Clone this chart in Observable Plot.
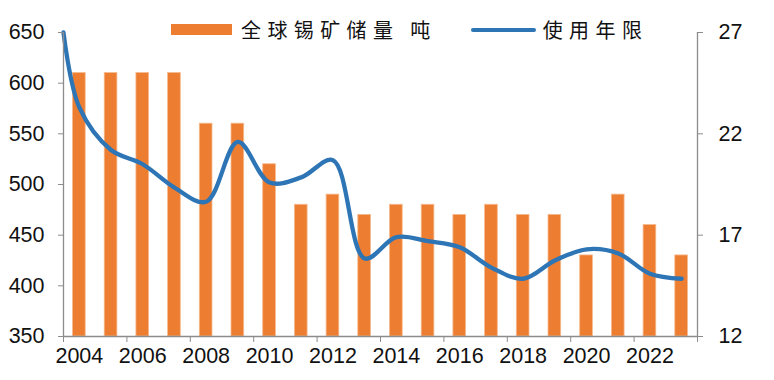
<!DOCTYPE html>
<html>
<head>
<meta charset="utf-8">
<script src="https://cdn.jsdelivr.net/npm/d3@7"></script>
<script src="https://cdn.jsdelivr.net/npm/@observablehq/plot@0.6"></script>
<style>
  html, body { margin: 0; padding: 0; background: #fff; }
  #wrap { position: relative; width: 774px; height: 380px; }
  #legend { position: absolute; top: 15px; left: 171px; display: flex; align-items: center;
    font-family: "Noto Sans CJK SC", sans-serif; font-size: 20px; letter-spacing: 6.4px; color: #111; }
  .sw-bar { width: 61px; height: 11px; background: #ED7D31; margin-right: 9px; }
  .sw-line { width: 65px; height: 4px; border-radius: 2px; background: #2E75B6; margin-left: 34px; margin-right: 7px; }
  #chart svg text { font-size: 21.5px; }
</style>
</head>
<body>
<div id="wrap">
  <div id="chart"></div>
  <div id="legend">
    <div class="sw-bar"></div><span>全球锡矿储量 吨</span>
    <div class="sw-line"></div><span>使用年限</span>
  </div>
</div>
<script>
// Data
const years = [2004,2005,2006,2007,2008,2009,2010,2011,2012,2013,2014,2015,2016,2017,2018,2019,2020,2021,2022,2023];
const reserves = [610,610,610,610,560,560,520,480,490,470,480,480,470,480,470,470,430,490,460,430];
const lifeYears = [2003.5,2004,2005,2006,2007,2008,2009,2010,2011,2012,2013,2014,2015,2016,2017,2018,2019,2020,2021,2022,2023];
const lifeValues = [27,23.3,21.2,20.5,19.35,18.65,21.6,19.6,19.85,20.7,15.85,16.9,16.7,16.4,15.4,14.85,15.75,16.3,16.1,15.1,14.85];
const leftTicks = [350,400,450,500,550,600,650];
const rightTicks = [12,17,22,27];
const xLabelYears = [2004,2006,2008,2010,2012,2014,2016,2018,2020,2022];
const xTickBounds = [2003.5,2005.5,2007.5,2009.5,2011.5,2013.5,2015.5,2017.5,2019.5,2021.5,2023.5];

// secondary-axis mapping (12..27 -> 350..650)
const toLeft = v => 350 + (v - 12) * 20;
const fromLeft = v => Math.round((v - 350) / 20 + 12);

const barData = years.map((y, i) => ({year: y, reserve: reserves[i]}));
const lineData = lifeYears.map((y, i) => ({year: y, life: lifeValues[i]}));

const axisColor = "#8c8c8c";
const font = "Liberation Sans, Arial, sans-serif";

const chart = Plot.plot({
  width: 774,
  height: 380,
  marginLeft: 63,
  marginRight: 77,
  marginTop: 32,
  marginBottom: 44,
  style: {fontFamily: font, fontSize: "21.5px", color: "#111", background: "white"},
  x: {type: "linear", domain: [2003.5, 2023.5]},
  y: {domain: [350, 650]},
  marks: [
    Plot.rect(barData, {
      x1: d => d.year - 0.2, x2: d => d.year + 0.2,
      y1: 350, y2: "reserve",
      fill: "#ED7D31", stroke: "#F6B98C", strokeWidth: 0.8
    }),
    Plot.line(lineData, {
      x: "year", y: d => toLeft(d.life),
      stroke: "#2E75B6", strokeWidth: 4.3, curve: "catmull-rom",
      strokeLinecap: "round", strokeLinejoin: "round"
    }),
    // left axis
    Plot.axisY({anchor: "left", ticks: leftTicks, tickSize: 5, tickPadding: 14, stroke: axisColor, label: null}),
    Plot.ruleX([2003.5], {stroke: axisColor, strokeWidth: 1.3}),
    // right axis
    Plot.axisY({anchor: "right", ticks: rightTicks.map(toLeft), tickFormat: fromLeft, tickSize: 5, tickPadding: 16, stroke: axisColor, label: null}),
    Plot.ruleX([2023.5], {stroke: axisColor, strokeWidth: 1.3}),
    // bottom axis
    Plot.ruleY([350], {stroke: axisColor, strokeWidth: 1.3}),
    Plot.axisX({ticks: xTickBounds, tickFormat: () => "", tickSize: 6, stroke: axisColor, label: null}),
    Plot.axisX({ticks: xLabelYears, tickFormat: d => String(d), tickSize: 0, tickPadding: 11, label: null})
  ]
});
document.getElementById("chart").appendChild(chart);
</script>
</body>
</html>
